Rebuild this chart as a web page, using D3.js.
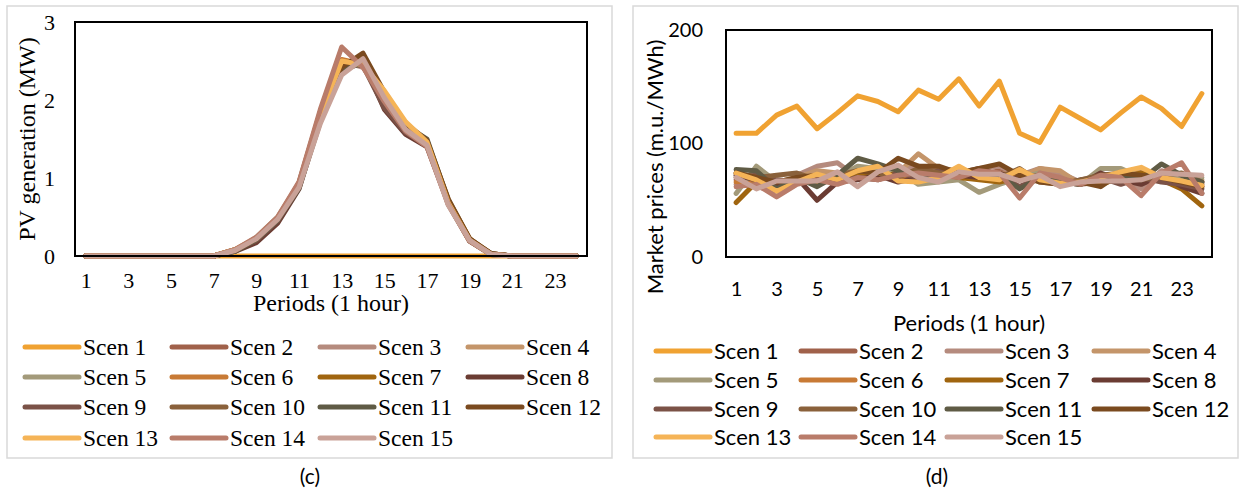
<!DOCTYPE html>
<html><head><meta charset="utf-8">
<script src="https://cdn.jsdelivr.net/npm/d3@7"></script>
<style>body{margin:0;background:#fff}svg{display:block}</style>
</head><body>
<svg id="chart" width="1243" height="493"></svg>
<script>
// ---------- DATA ----------
const periods = d3.range(1, 25);
const xTickValues = [1,3,5,7,9,11,13,15,17,19,21,23];
const scenNames = ["Scen 1","Scen 2","Scen 3","Scen 4","Scen 5","Scen 6","Scen 7","Scen 8","Scen 9","Scen 10","Scen 11","Scen 12","Scen 13","Scen 14","Scen 15"];
const scenColors = ["#f0a232","#a0614a","#b58b7e","#c4956a","#a39a7a","#c87a35","#a0650f","#6b3c33","#7b5247","#8a613b","#5f5b45","#7a4a1f","#f5b457","#b97c6a","#c9a298"];

const pvTicks = [0,1,2,3];
const pv1  = [0,0,0,0,0,0,0,0,0,0,0,0,0,0,0,0,0,0,0,0,0,0,0,0];
const pv2  = [0,0,0,0,0,0,0,0.07,0.20,0.45,0.88,1.78,2.45,2.48,2.02,1.62,1.44,0.68,0.20,0.03,0,0,0,0];
const pv3  = [0,0,0,0,0,0,0,0.08,0.23,0.48,0.92,1.82,2.50,2.42,2.05,1.66,1.45,0.70,0.21,0.02,0,0,0,0];
const pv4  = [0,0,0,0,0,0,0,0.07,0.22,0.46,0.90,1.80,2.47,2.45,2.08,1.68,1.47,0.71,0.22,0.03,0,0,0,0];
const pv5  = [0,0,0,0,0,0,0,0.06,0.24,0.50,0.93,1.77,2.42,2.50,2.03,1.64,1.43,0.66,0.19,0.02,0,0,0,0];
const pv6  = [0,0,0,0,0,0,0,0.08,0.21,0.47,0.91,1.84,2.52,2.46,2.00,1.60,1.42,0.69,0.20,0.03,0,0,0,0];
const pv7  = [0,0,0,0,0,0,0,0.07,0.20,0.44,0.89,1.79,2.44,2.55,2.06,1.65,1.46,0.72,0.22,0.02,0,0,0,0];
const pv8  = [0,0,0,0,0,0,0,0.06,0.17,0.42,0.86,1.76,2.40,2.50,1.88,1.56,1.40,0.67,0.19,0.02,0,0,0,0];
const pv9  = [0,0,0,0,0,0,0,0.08,0.20,0.45,0.90,1.81,2.48,2.44,1.90,1.58,1.43,0.70,0.21,0.03,0,0,0,0];
const pv10 = [0,0,0,0,0,0,0,0.07,0.22,0.47,0.92,1.78,2.46,2.52,2.04,1.63,1.44,0.69,0.20,0.02,0,0,0,0];
const pv11 = [0,0,0,0,0,0,0,0.06,0.21,0.46,0.87,1.72,2.38,2.48,2.07,1.67,1.50,0.71,0.21,0.03,0,0,0,0];
const pv12 = [0,0,0,0,0,0,0,0.07,0.22,0.48,0.94,1.85,2.42,2.60,2.10,1.70,1.48,0.73,0.22,0.03,0,0,0,0];
const pv13 = [0,0,0,0,0,0,0,0.08,0.23,0.49,0.91,1.80,2.50,2.45,2.12,1.72,1.46,0.68,0.20,0.02,0,0,0,0];
const pv14 = [0,0,0,0,0,0,0,0.08,0.24,0.50,0.95,1.88,2.68,2.42,1.98,1.60,1.40,0.66,0.19,0.02,0,0,0,0];
const pv15 = [0,0,0,0,0,0,0,0.07,0.22,0.47,0.88,1.70,2.32,2.53,2.03,1.62,1.42,0.65,0.20,0.02,0,0,0,0];

const mpTicks = [0,100,200];
const mp1  = [109,109,125,133,113,127,142,137,128,147,139,157,133,155,109,101,132,122,112,127,141,131,115,144];
const mp2  = [68,66,62,68,70,72,70,72,74,76,74,70,72,76,70,74,66,64,66,70,68,74,72,64];
const mp3  = [64,62,58,72,80,83,70,74,78,80,76,72,78,80,72,78,74,66,70,72,60,76,70,66];
const mp4  = [72,70,66,70,76,74,72,78,74,91,78,76,72,74,70,78,76,64,72,70,76,70,66,68];
const mp5  = [56,80,66,68,64,70,80,78,76,64,66,68,57,64,70,74,66,64,78,78,70,72,68,70];
const mp6  = [66,64,62,66,70,68,72,74,70,74,72,74,70,72,74,70,68,66,68,72,70,68,64,62];
const mp7  = [48,66,64,68,66,70,72,70,74,72,74,70,68,66,70,68,64,66,64,70,74,68,60,45];
const mp8  = [72,68,64,70,50,66,68,72,66,70,74,72,70,74,68,72,66,64,74,68,64,72,62,56];
const mp9  = [70,72,68,66,72,66,70,68,74,70,76,74,78,72,62,70,64,68,70,64,70,66,64,60];
const mp10 = [74,70,72,74,68,72,76,74,70,78,74,72,76,70,78,66,64,68,72,74,68,72,74,66];
const mp11 = [77,76,60,70,62,72,87,82,76,72,70,74,74,72,60,70,66,64,70,72,68,82,72,66];
const mp12 = [74,70,66,70,72,68,76,74,87,80,80,74,78,82,72,66,64,66,62,74,72,70,66,62];
const mp13 = [74,68,58,66,73,68,76,80,67,66,70,80,70,68,77,68,65,66,70,75,79,70,67,63];
const mp14 = [62,64,53,64,68,64,70,68,72,74,72,70,76,74,52,74,70,64,72,70,54,74,83,56];
const mp15 = [70,60,67,67,67,75,62,75,81,70,66,75,73,73,67,72,62,66,67,67,68,74,73,72];

const pvSeries = [pv1,pv2,pv3,pv4,pv5,pv6,pv7,pv8,pv9,pv10,pv11,pv12,pv13,pv14,pv15];
const mpSeries = [mp1,mp2,mp3,mp4,mp5,mp6,mp7,mp8,mp9,mp10,mp11,mp12,mp13,mp14,mp15];

// ---------- DRAW ----------
const svg = d3.select("#chart");

function panel(cfg) {
  const g = svg.append("g");
  // outer frame
  g.append("rect").attr("x", cfg.frame[0]).attr("y", cfg.frame[1])
    .attr("width", cfg.frame[2]-cfg.frame[0]).attr("height", cfg.frame[3]-cfg.frame[1])
    .attr("fill", "none").attr("stroke", "#d9d9d9").attr("stroke-width", 1.5);

  const x = d3.scalePoint().domain(periods).range([cfg.l, cfg.r]).padding(0.5);
  const y = d3.scaleLinear().domain(cfg.yDomain).range([cfg.b, cfg.t]);

  // y axis
  const ya = g.append("g").attr("transform", `translate(${cfg.l},0)`)
    .call(d3.axisLeft(y).tickValues(cfg.yTicks).tickFormat(d3.format("d")).tickSize(0).tickPadding(cfg.yPad));
  ya.select(".domain").remove();
  ya.selectAll("text").attr("font-family", cfg.font).attr("font-size", cfg.tickSize).attr("fill", "#000");

  // x axis
  const xa = g.append("g").attr("transform", `translate(0,${cfg.b})`)
    .call(d3.axisBottom(x).tickValues(xTickValues).tickSize(0).tickPadding(cfg.xPad));
  xa.select(".domain").remove();
  xa.selectAll("text").attr("font-family", cfg.font).attr("font-size", cfg.tickSize).attr("fill", "#000");

  // lines
  const line = d3.line().x((d, i) => x(periods[i])).y(d => y(d));
  cfg.series.forEach((s, k) => {
    g.append("path").datum(s).attr("d", line).attr("fill", "none")
      .attr("stroke", scenColors[k]).attr("stroke-width", 5)
      .attr("stroke-linejoin", "round").attr("stroke-linecap", "round");
  });

  // plot box
  g.append("rect").attr("x", cfg.l).attr("y", cfg.t).attr("width", cfg.r-cfg.l).attr("height", cfg.b-cfg.t)
    .attr("fill", "none").attr("stroke", "#000").attr("stroke-width", 2);

  // axis titles
  g.append("text").attr("transform", `translate(${cfg.yTitleX},${cfg.yTitleY}) rotate(-90)`)
    .attr("text-anchor", "middle").attr("font-family", cfg.font).attr("font-size", cfg.titleSize)
    .text(cfg.yTitle);
  g.append("text").attr("x", cfg.xTitleX).attr("y", cfg.xTitleY)
    .attr("text-anchor", "middle").attr("font-family", cfg.font).attr("font-size", cfg.titleSize)
    .text("Periods (1 hour)");

  // legend
  scenNames.forEach((name, k) => {
    const col = k % 4, row = Math.floor(k / 4);
    const lx = cfg.legX[col], ly = cfg.legY[row];
    g.append("line").attr("x1", lx).attr("x2", lx + cfg.legLen).attr("y1", ly).attr("y2", ly)
      .attr("stroke", scenColors[k]).attr("stroke-width", 5).attr("stroke-linecap", "round");
    g.append("text").attr("x", lx + cfg.legLen + 4).attr("y", ly + cfg.legDy)
      .attr("font-family", cfg.font).attr("font-size", cfg.legSize).text(name);
  });

  // panel caption
  g.append("text").attr("x", cfg.capX).attr("y", 479).attr("text-anchor", "middle")
    .attr("dominant-baseline", "middle").attr("font-family", "Lato").attr("font-size", 21).text(cfg.caption);
}

panel({
  frame: [7, 6, 612, 458],
  l: 75, r: 587, t: 22, b: 256,
  yDomain: [0, 3], yTicks: pvTicks, series: pvSeries,
  font: "Liberation Serif", tickSize: 22, titleSize: 24, legSize: 23.5,
  yPad: 20, xPad: 16,
  yTitle: "PV generation (MW)", yTitleX: 35, yTitleY: 139,
  xTitleX: 331, xTitleY: 311,
  legX: [25, 172, 320, 468], legY: [347, 377, 407, 438], legLen: 54, legDy: 8,
  capX: 310, caption: "(c)"
});

panel({
  frame: [633, 6, 1238, 458],
  l: 726, r: 1212, t: 30, b: 257,
  yDomain: [0, 200], yTicks: mpTicks, series: mpSeries,
  font: "Lato", tickSize: 20, titleSize: 22, legSize: 22,
  yPad: 23, xPad: 25,
  yTitle: "Market prices (m.u./MWh)", yTitleX: 663, yTitleY: 167,
  xTitleX: 969, xTitleY: 331,
  legX: [656, 801, 947, 1094], legY: [351, 380, 409, 437], legLen: 54, legDy: 8,
  capX: 937, caption: "(d)"
});
</script>
</body></html>
